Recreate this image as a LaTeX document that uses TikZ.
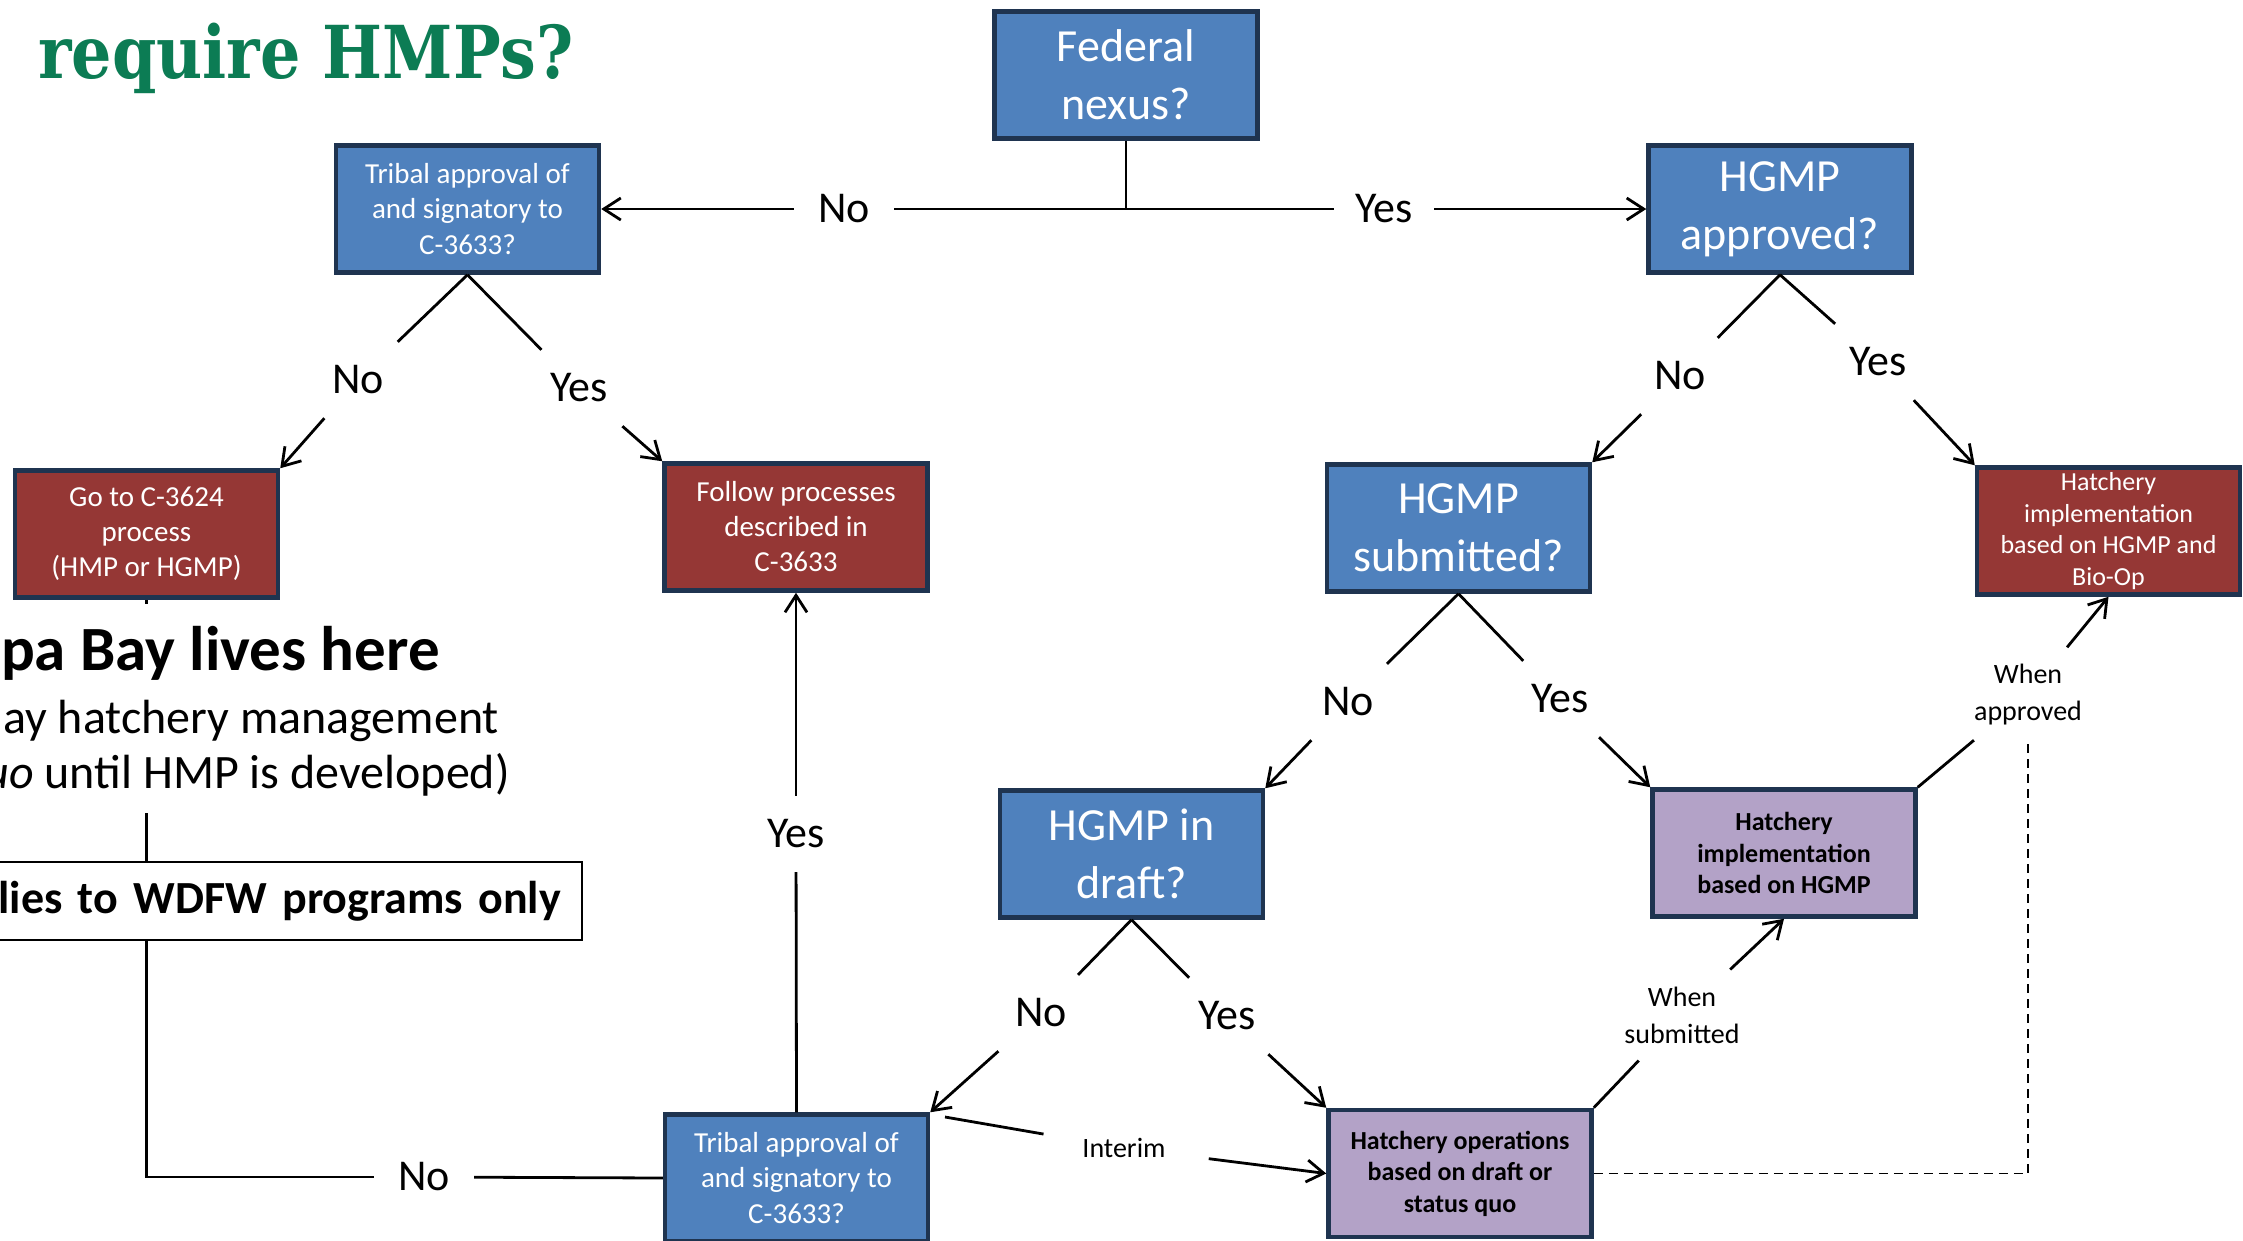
\documentclass[tikz,border=0pt]{standalone}
\usepackage{fontspec}
\usepackage{graphicx}
\setmainfont{Carlito}
\newfontfamily\titlefont{DejaVu Serif}
\usetikzlibrary{arrows.meta}
\definecolor{bluefill}{RGB}{79,129,189}
\definecolor{edgecol}{RGB}{31,52,80}
\definecolor{redfill}{RGB}{149,55,53}
\definecolor{purplefill}{RGB}{179,162,199}
\definecolor{titlegreen}{RGB}{12,124,84}
\begin{document}
\begin{tikzpicture}[x=1pt,y=-1pt,
  box/.style={rectangle, draw=edgecol, line width=4.5pt, minimum width=263pt, minimum height=127pt, inner sep=0pt, align=center},
  bigq/.style={box, fill=bluefill, text=white, font=\fontsize{46}{58}\selectfont},
  smallq/.style={box, fill=bluefill, text=white, font=\fontsize{29}{35.5}\selectfont},
  redbox/.style={box, fill=redfill, text=white, font=\fontsize{29}{35}\selectfont},
  redsmall/.style={box, fill=redfill, text=white, font=\fontsize{26}{31.5}\selectfont},
  purplebox/.style={box, fill=purplefill, text=black, font=\fontsize{26}{31.5}\selectfont\bfseries},
  lab/.style={rectangle, minimum width=100pt, minimum height=76pt, inner sep=0pt, font=\fontsize{44}{52}\selectfont},
  note/.style={rectangle, inner xsep=0pt, inner ysep=17pt, align=center, font=\fontsize{28}{37}\selectfont},
  conn/.style={line width=2.8pt, black},
  arr/.style={conn, -{Straight Barb[length=17pt,width=22pt]}},
  dashline/.style={line width=1.8pt, black, dash pattern=on 9pt off 6pt},
  bigtext/.style={inner sep=0pt, anchor=base east}
]
\useasboundingbox (0,0) rectangle (2243,1240);

% title
\node[inner sep=0pt, anchor=base west, text=titlegreen, font=\titlefont\bfseries\fontsize{73}{80}\selectfont] (title) at (38,78) {\scalebox{0.87}[1]{require HMPs?}};

% boxes
\node[bigq] (FN) at (1126,75) {Federal\\nexus?};
\node[smallq] (T1) at (467.5,209) {Tribal approval of\\and signatory to\\C-3633?};
\node[bigq] (HA) at (1780,209) {HGMP\\approved?};
\node[redbox] (G) at (146.5,534) {Go to C-3624\\process\\(HMP or HGMP)};
\node[redbox] (FP) at (796,527) {Follow processes\\described in\\C-3633};
\node[bigq] (HS) at (1458.5,528) {HGMP\\submitted?};
\node[redsmall] (HB) at (2108.5,531) {Hatchery\\implementation\\based on HGMP and\\Bio-Op};
\node[bigq] (HD) at (1131.5,854) {HGMP in\\draft?};
\node[purplebox] (HI) at (1784,853) {Hatchery\\implementation\\based on HGMP};
\node[smallq] (T2) at (796.5,1178) {Tribal approval of\\and signatory to\\C-3633?};
\node[purplebox] (HO) at (1460,1173.5) {Hatchery operations\\based on draft or\\status quo};

% WDFW box
\node[draw=black, line width=2pt, fill=white, anchor=east, minimum height=78pt, text width=600pt, align=right, inner xsep=21pt, inner ysep=0pt, font=\fontsize{46}{56}\selectfont\bfseries] (apl) at (583,901) {lies to WDFW programs only};

% labels
\node[lab] (noT) at (844,209) {No};
\node[lab] (yesT) at (1384,209) {Yes};
\node[lab] (no1) at (358,380) {No};
\node[lab] (yes1) at (579,388) {Yes};
\node[lab] (no2) at (1680,376) {No};
\node[lab] (yes2) at (1878,362) {Yes};
\node[lab] (no3) at (1348,702) {No};
\node[lab] (yes3) at (1560,699) {Yes};
\node[lab] (no4) at (1041,1013) {No};
\node[lab] (yes4) at (1227,1016) {Yes};
\node[lab] (yesV) at (796,834) {Yes};
\node[lab] (noB) at (424,1177) {No};
\node[note, inner xsep=43pt, inner ysep=4pt] (interim) at (1124,1148) {Interim};
\node[note] (whenS) at (1682,1015) {When\\submitted};
\node[note] (whenA) at (2028,695) {When\\approved};
\coordinate (intS) at (945,1117);

% connectors
\draw[conn] (FN.south) -- (FN.south |- noT);
\draw[conn] (noT) -- (yesT);
\draw[arr] (noT) -- (T1.east);
\draw[arr] (yesT) -- (HA.west);

\draw[conn] (T1.south) -- (no1);
\draw[conn] (T1.south) -- (yes1);
\draw[arr] (no1) -- (G.north east);
\draw[arr] (yes1) -- (FP.north west);

\draw[conn] (HA.south) -- (no2);
\draw[conn] (HA.south) -- (yes2);
\draw[arr] (no2) -- (HS.north east);
\draw[arr] (yes2) -- (HB.north west);

\draw[conn] (HS.south) -- (no3);
\draw[conn] (HS.south) -- (yes3);
\draw[arr] (no3) -- (HD.north east);
\draw[arr] (yes3) -- (HI.north west);

\draw[conn] (HD.south) -- (no4);
\draw[conn] (HD.south) -- (yes4);
\draw[arr] (no4) -- (T2.north east);
\draw[arr] (yes4) -- (HO.north west);

\draw[conn] (T2.north) -- (yesV);
\draw[arr] (yesV) -- (FP.south);

\draw[conn] (intS) -- (interim);
\draw[arr] (interim) -- (HO.west);

\draw[conn] (HO.north east) -- (whenS);
\draw[arr] (whenS) -- (HI.south);
\draw[conn] (HI.north east) -- (whenA);
\draw[arr] (whenA) -- (HB.south);
\draw[dashline] (HO.east) -| (whenA.south);

\draw[conn] (G.south) -- (G.south |- apl.north);
\draw[conn] (apl.south -| G.south) |- (noB);
\draw[conn] (noB) -- (T2.west);

% opaque text block
\fill[white] (0,604) rectangle (526,813);
\node[bigtext, font=\fontsize{63}{72}\selectfont\bfseries] (lives) at (440,670) {pa Bay lives here};
\node[bigtext, font=\fontsize{48}{58}\selectfont] (mgmt) at (499,733) {ay hatchery management};
\node[bigtext, font=\fontsize{48}{58}\selectfont] (until) at (510,788) {\textit{uo} until HMP is developed)};
\end{tikzpicture}
\end{document}
